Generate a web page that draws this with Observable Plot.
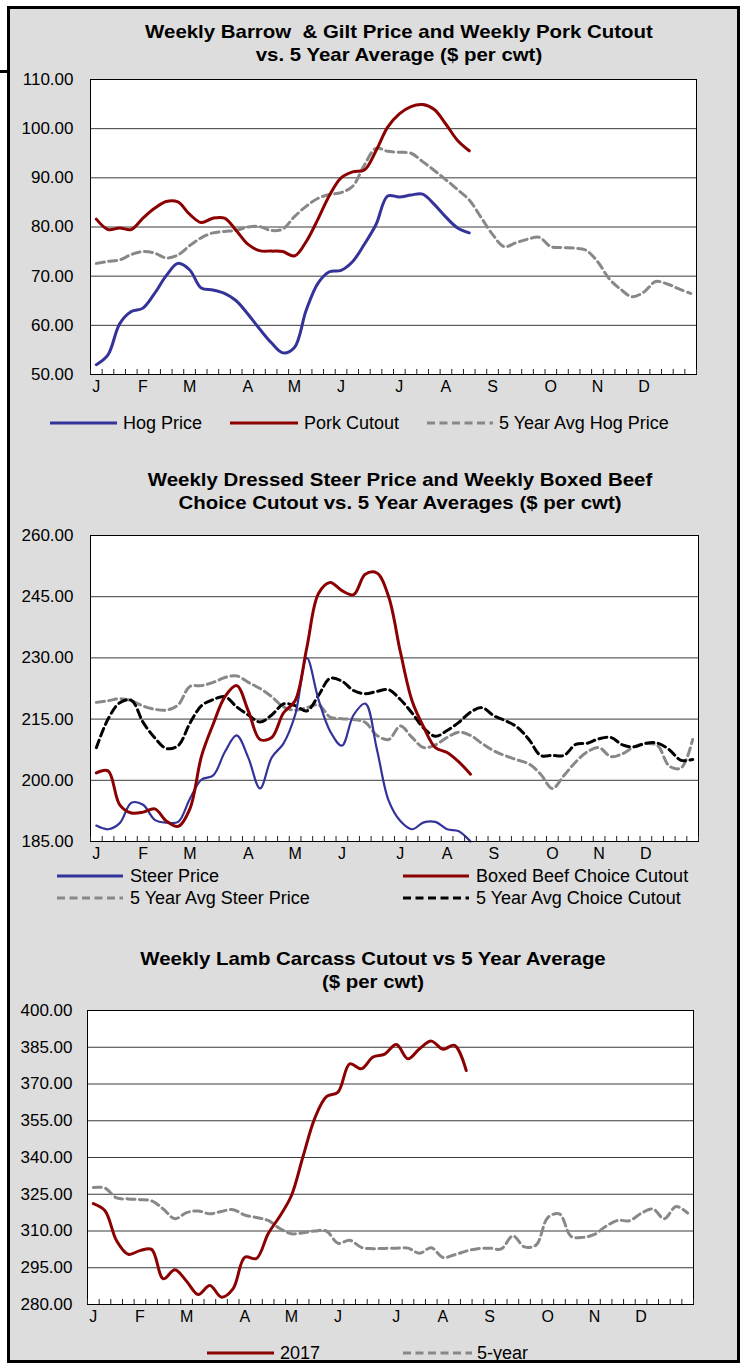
<!DOCTYPE html>
<html><head><meta charset="utf-8">
<script src="https://cdn.jsdelivr.net/npm/d3@7"></script>
<script src="https://cdn.jsdelivr.net/npm/@observablehq/plot@0.6"></script>
<style>
body{margin:0;background:#fff;font-family:"Liberation Sans",Arial,sans-serif;}
#page{position:relative;width:740px;height:1367px;overflow:hidden;background:#fff;}
#box{position:absolute;left:7px;top:6px;width:733px;height:1357px;box-sizing:border-box;border:3px solid #000;background:#dddddd;}
.title{position:absolute;font-weight:bold;font-size:19px;text-align:center;line-height:22.7px;color:#000;white-space:pre;transform:scaleX(1.075);transform-origin:center top;}
.leg{position:absolute;font-size:18px;line-height:20px;white-space:nowrap;color:#000;}
.sw{position:absolute;}
svg.chart{position:absolute;left:0;}
</style></head>
<body>
<div id="page"><div id="box"></div>
<div style="position:absolute;left:0;top:70px;width:10px;height:2.5px;background:#000"></div>
</div>
<script>
// ---- data ----
const monthLabels = ["J","F","M","A","M","J","J","A","S","O","N","D"];
const monthPos = [0.5,4.5,8.5,13.5,17.5,21.5,26.5,30.5,34.5,39.5,43.5,47.5];
const weekTicks = d3.range(0,53);

const hogTicks = [50,60,70,80,90,100,110];
const hogPrice = [52,54,60.3,62.8,63.5,66.5,70.1,72.6,71.3,67.6,67.2,66.5,65,62.3,59.3,56.5,54.4,55.5,63,68.5,70.9,71.2,73,76.5,80.5,86.3,86.1,86.5,86.7,84.6,82,79.8,78.8];
const porkCutout = [81.6,79.5,79.8,79.5,81.8,83.8,85.2,85.1,82.6,80.9,81.8,81.8,79.3,76.5,75.2,75.1,75.0,74.1,77.0,81.5,86.4,90.0,91.2,91.6,95.5,100.3,103.0,104.5,104.9,103.9,100.9,97.6,95.5];
const hog5yr = [72.6,73.0,73.3,74.4,75.0,74.7,73.7,74.3,76.2,77.8,78.8,79.1,79.3,80.0,80.1,79.3,79.6,82.1,84.2,85.8,86.6,87.0,88.3,92.6,96.0,95.4,95.2,95.0,93.3,91.5,89.6,87.6,85.5,82.0,78.5,76.0,76.8,77.5,77.9,76.0,75.8,75.7,75.3,73.0,69.5,67.3,65.8,66.8,68.9,68.4,67.4,66.5];

const beefTicks = [185,200,215,230,245,260];
const steerPrice = [188.9,188.0,189.5,194.5,194.0,190.3,189.6,189.8,195.5,200.2,201.2,207.0,211.0,205.5,198.0,205.6,209.0,216.0,230.0,219.8,212.0,208.5,216.0,218.8,207.5,195.0,190.0,188.0,189.7,189.8,188.0,187.5,185.0];
const boxedBeef = [201.8,202.3,194.0,192.0,192.2,193.0,190.0,188.7,193.0,206.0,213.8,220.5,223.2,217.0,210.0,210.5,216.5,219.5,232.5,245.8,248.5,246.5,245.5,250.5,250.8,245.0,231.5,219.5,213.0,208.0,206.8,204.5,201.5];
const steer5yr = [219.1,219.5,220.0,219.5,218.2,217.4,217.2,218.5,223.0,223.2,224.0,225.2,225.6,224.0,222.5,220.5,218.0,217.2,217.8,218.5,215.5,215.1,214.9,214.2,211.0,210.0,213.3,210.5,208.0,208.7,210.5,211.8,211.0,209.0,207.2,206.0,205.0,204.0,201.5,198.0,201.2,204.5,207.0,208.0,205.8,206.5,208.2,209.0,208.5,203.5,203.0,210.0];
const choice5yr = [208.0,215.0,219.0,219.6,214.2,210.4,207.8,208.5,214.0,218.3,219.8,220.5,218.0,216.0,214.3,216.0,218.7,218.3,217.0,220.8,225.0,224.3,222.0,221.2,221.8,222.2,219.8,216.5,212.8,210.8,212.2,214.2,216.7,217.8,215.8,214.6,213.0,210.0,206.1,206.1,206.1,208.8,209.1,210.2,210.5,208.7,208.2,209.1,209.1,207.5,204.9,205.1];

const lambTicks = [280,295,310,325,340,355,370,385,400];
const lamb2017 = [321.2,318.3,306.0,300.5,302.0,302.5,290.5,294.2,289.5,284.1,287.8,283.0,286.5,299.3,298.8,308.9,316.0,324.5,340.5,356.0,364.8,366.7,378.2,376.2,381.0,382.2,386.1,380.3,384.4,387.5,384.2,385.8,375.5];
const lamb5yr = [327.8,327.5,323.5,323.1,322.8,322.3,319.0,315.0,317.5,318.2,317.0,318.0,318.7,316.5,315.5,314.3,311.0,308.9,309.3,310.0,310.0,305.0,306.2,303.3,302.8,302.9,303.0,303.0,300.9,303.2,299.2,300.3,301.8,302.8,303.0,302.7,308.0,303.5,304.3,315.5,317.0,307.8,307.4,308.6,312.0,314.3,314.2,317.2,319.0,315.0,320.0,317.3];

const BLUE = "#333399", RED = "#8b0000", GRAY = "#888888", BLACK = "#000000";

const page = document.getElementById("page");
const toPts = arr => arr.map((v,i)=>({w:i+0.5, v}));

function chart({top, height, mt, mb, ml, mr, yDomain, yTicks, ypad, lines}) {
  const marks = [
    Plot.frame({fill:"white", stroke:"none"}),
    Plot.ruleY(yTicks.slice(1,-1), {stroke:"#3a3a3a", strokeWidth:1}),
    ...lines.map(s => Plot.line(toPts(s.data), {x:"w", y:"v", stroke:s.color, strokeWidth:s.width||3,
      strokeDasharray:s.dash||null, curve:"catmull-rom"})),
    Plot.frame({stroke:"#000", strokeWidth:1}),
    Plot.axisX(weekTicks, {tickSize:-5, tickFormat:()=>"", label:null, stroke:"#222"}),
    Plot.axisX(monthPos, {tickSize:0, tickPadding:6, tickFormat:d=>monthLabels[monthPos.indexOf(d)], label:null, fontSize:16}),
    Plot.axisY(yTicks, {tickSize:0, tickPadding:ypad, tickFormat:d=>d.toFixed(2), label:null, fontSize:17})
  ];
  const svg = Plot.plot({
    width:740, height, marginTop:mt, marginBottom:mb, marginLeft:ml, marginRight:mr,
    style:{background:"transparent", fontFamily:"'Liberation Sans', Arial, sans-serif", fontSize:"16px", color:"#000", overflow:"visible"},
    x:{domain:[0,52], axis:null},
    y:{domain:yDomain, axis:null},
    marks
  });
  svg.classList.add("chart");
  svg.style.position = "absolute";
  svg.style.top = top + "px";
  svg.style.left = "0px";
  page.appendChild(svg);
}

function title(lines, centerX, top) {
  const d = document.createElement("div");
  d.className = "title";
  d.style.left = (centerX - 350) + "px";
  d.style.width = "700px";
  d.style.top = top + "px";
  d.textContent = lines.join("\n");
  page.appendChild(d);
}

function legend(x1, x2, tx, cy, color, dash, label) {
  const ns = "http://www.w3.org/2000/svg";
  const s = document.createElementNS(ns, "svg");
  s.setAttribute("class","sw");
  s.setAttribute("width", x2-x1); s.setAttribute("height", 8);
  s.style.left = x1+"px"; s.style.top = (cy-4)+"px";
  const l = document.createElementNS(ns,"line");
  l.setAttribute("x1",0); l.setAttribute("x2",x2-x1); l.setAttribute("y1",4); l.setAttribute("y2",4);
  l.setAttribute("stroke",color); l.setAttribute("stroke-width",3);
  if (dash) l.setAttribute("stroke-dasharray", dash);
  s.appendChild(l);
  page.appendChild(s);
  const t = document.createElement("div");
  t.className = "leg"; t.style.left = tx+"px"; t.style.top = (cy-10)+"px";
  t.textContent = label;
  page.appendChild(t);
}

const DASH = "8,4.5";

// Chart 1
title(["Weekly Barrow  & Gilt Price and Weekly Pork Cutout","vs. 5 Year Average ($ per cwt)"], 399, 21);
chart({top:60, height:340, mt:19, mb:26, ml:90, mr:44, yDomain:[50,110], yTicks:hogTicks, ypad:17,
  lines:[{data:hog5yr, color:GRAY, dash:DASH},{data:hogPrice, color:BLUE},{data:porkCutout, color:RED}]});
legend(50,117,123,423,BLUE,null,"Hog Price");
legend(230,298,304,423,RED,null,"Pork Cutout");
legend(427,493,499,423,GRAY,DASH,"5 Year Avg Hog Price");

// Chart 2
title(["Weekly Dressed Steer Price and Weekly Boxed Beef","Choice Cutout vs. 5 Year Averages ($ per cwt)"], 400, 469);
chart({top:515, height:355, mt:20, mb:29, ml:90, mr:42, yDomain:[185,260], yTicks:beefTicks, ypad:17,
  lines:[{data:steer5yr, color:GRAY, dash:DASH},{data:choice5yr, color:BLACK, dash:DASH},
         {data:steerPrice, color:BLUE, width:2.2},{data:boxedBeef, color:RED}]});
legend(57,123,130,876,BLUE,null,"Steer Price");
legend(403,469,476,876,RED,null,"Boxed Beef Choice Cutout");
legend(57,123,130,898,GRAY,DASH,"5 Year Avg Steer Price");
legend(403,469,476,898,BLACK,DASH,"5 Year Avg Choice Cutout");

// Chart 3
title(["Weekly Lamb Carcass Cutout vs 5 Year Average","($ per cwt)"], 373, 948);
chart({top:995, height:335, mt:15, mb:26, ml:87, mr:47, yDomain:[280,400], yTicks:lambTicks, ypad:15,
  lines:[{data:lamb5yr, color:GRAY, dash:DASH},{data:lamb2017, color:RED}]});
legend(207,274,280,1353,RED,null,"2017");
legend(403,472,477,1353,GRAY,DASH,"5-year");
</script>
</body></html>
